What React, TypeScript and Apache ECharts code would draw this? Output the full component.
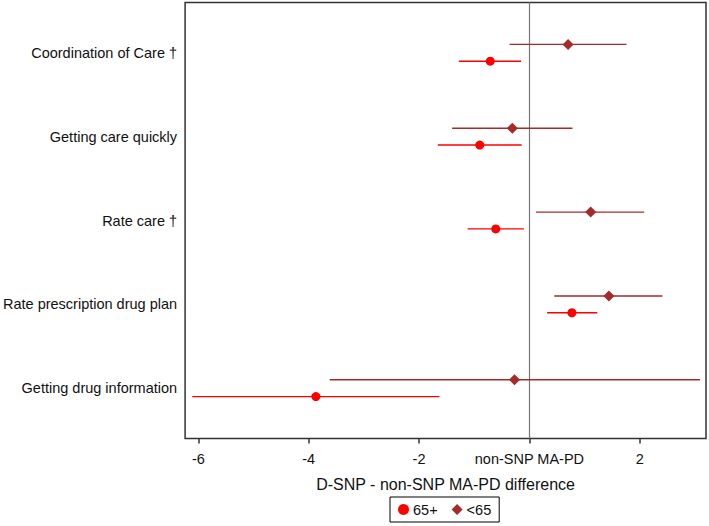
import React, { useEffect, useRef } from "react";
import * as echarts from "echarts";

const categories = [
  "Coordination of Care †",
  "Getting care quickly",
  "Rate care †",
  "Rate prescription drug plan",
  "Getting drug information",
];
// 65+ group: estimate, lower CI, upper CI
const est65plus = [-0.71, -0.9, -0.61, 0.77, -3.87];
const lo65plus = [-1.28, -1.66, -1.12, 0.32, -6.11];
const hi65plus = [-0.15, -0.14, -0.1, 1.23, -1.63];
// <65 group
const estUnder65 = [0.7, -0.31, 1.11, 1.44, -0.27];
const loUnder65 = [-0.36, -1.4, 0.12, 0.45, -3.62];
const hiUnder65 = [1.76, 0.78, 2.08, 2.41, 3.09];
const xTicks = [-6, -4, -2, 0, 2];
const zeroLabel = "non-SNP MA-PD";

const RED = "#ff0000";
const BROWN = "#a52a2a";
const FONT = "Liberation Sans, Arial, sans-serif";

export default function App() {
  const ref = useRef<HTMLDivElement>(null);
  useEffect(() => {
    if (!ref.current) return;
    const chart = echarts.init(ref.current, null, { renderer: "svg" });
    const OFF = 0.1;
    const ciPlus = categories.map((_, i) => [lo65plus[i], hi65plus[i], i + 1 + OFF]);
    const ciUnder = categories.map((_, i) => [loUnder65[i], hiUnder65[i], i + 1 - OFF]);
    const ptPlus = categories.map((_, i) => [est65plus[i], i + 1 + OFF]);
    const ptUnder = categories.map((_, i) => [estUnder65[i], i + 1 - OFF]);
    const ciRender = (color: string) => (params: any, api: any) => {
      const a = api.coord([api.value(0), api.value(2)]);
      const b = api.coord([api.value(1), api.value(2)]);
      return {
        type: "line",
        shape: { x1: a[0], y1: a[1], x2: b[0], y2: b[1] },
        style: { stroke: color, lineWidth: 1.4 },
      };
    };
    chart.setOption({
      animation: false,
      textStyle: { fontFamily: FONT },
      grid: {
        left: 183,
        right: 3,
        top: 2.5,
        bottom: 87.5,
        show: true,
        borderColor: "#333",
        borderWidth: 1.5,
        backgroundColor: "#fff",
      },
      xAxis: {
        type: "value",
        min: -6.24,
        max: 3.2,
        axisLine: { show: false },
        splitLine: { show: false },
        axisTick: {
          show: true,
          customValues: xTicks,
          length: 5,
          lineStyle: { color: "#333", width: 1.5 },
        },
        axisLabel: {
          customValues: xTicks,
          margin: 13,
          fontSize: 14.5,
          color: "#111",
          fontFamily: FONT,
          formatter: (v: number) => (v === 0 ? zeroLabel : String(v)),
        },
        name: "D-SNP - non-SNP MA-PD difference",
        nameLocation: "middle",
        nameGap: 38,
        nameTextStyle: { fontSize: 16, color: "#111", fontFamily: FONT },
      },
      yAxis: {
        type: "value",
        min: 0.4,
        max: 5.6,
        inverse: true,
        axisLine: { show: false },
        axisTick: { show: false },
        splitLine: { show: false },
        axisLabel: {
          customValues: [1, 2, 3, 4, 5],
          margin: 8,
          fontSize: 14.5,
          color: "#111",
          fontFamily: FONT,
          formatter: (v: number) => categories[Math.round(v) - 1] ?? "",
        },
      },
      legend: {
        data: [
          { name: "65+", icon: "circle" },
          { name: "<65", icon: "diamond" },
        ],
        left: 390,
        top: 497,
        orient: "horizontal",
        borderColor: "#000",
        borderWidth: 1,
        padding: [5, 8, 5, 8],
        itemWidth: 11,
        itemHeight: 11,
        itemGap: 14,
        textStyle: { fontSize: 14.5, color: "#111", fontFamily: FONT, padding: [0, 0, 0, -1] },
      },
      series: [
        {
          type: "custom",
          name: "ci65plus",
          renderItem: ciRender(RED),
          data: ciPlus,
          encode: { x: [0, 1], y: 2 },
          z: 2,
          silent: true,
        },
        {
          type: "custom",
          name: "ciUnder65",
          renderItem: ciRender(BROWN),
          data: ciUnder,
          encode: { x: [0, 1], y: 2 },
          z: 2,
          silent: true,
        },
        {
          type: "scatter",
          name: "65+",
          symbol: "circle",
          symbolSize: 9,
          itemStyle: { color: RED, opacity: 1 },
          data: ptPlus,
          z: 3,
          markLine: {
            silent: true,
            symbol: "none",
            label: { show: false },
            lineStyle: { color: "#777", width: 1.2, type: "solid" },
            data: [{ xAxis: 0 }],
            z: 1,
          },
        },
        {
          type: "scatter",
          name: "<65",
          symbol: "diamond",
          symbolSize: 11,
          itemStyle: { color: BROWN, opacity: 1 },
          data: ptUnder,
          z: 3,
        },
      ],
    });
    return () => chart.dispose();
  }, []);
  return (
    <div
      ref={ref}
      style={{ position: "fixed", left: 0, top: 0, width: 709, height: 526, background: "#fff" }}
    />
  );
}
